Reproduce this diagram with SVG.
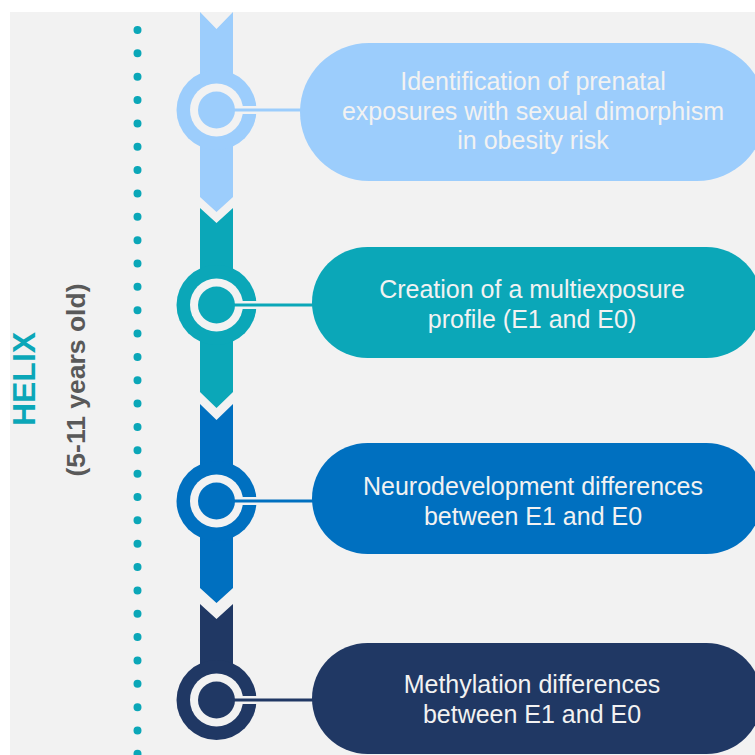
<svg xmlns="http://www.w3.org/2000/svg" width="755" height="755" viewBox="0 0 755 755">
  <style>
    .pilltext { font-family: "Liberation Sans", Arial, sans-serif; font-size: 25px; fill: #f2f2f2; text-anchor: middle; }
    .c1 { fill: #9ccdfc; } .s1 { stroke: #9ccdfc; }
    .c2 { fill: #0ba7b8; } .s2 { stroke: #0ba7b8; }
    .c3 { fill: #0070c0; } .s3 { stroke: #0070c0; }
    .c4 { fill: #203864; } .s4 { stroke: #203864; }
    .gap { fill: #f2f2f2; }
    .gapline { stroke: #f2f2f2; stroke-width: 8; }
    .conn { stroke-width: 3; fill: none; }
  </style>
  <defs>
    <g id="ring">
      <line class="gapline" x1="0" y1="0" x2="41" y2="0"/>
      <circle class="gap" r="26.5"/>
    </g>
  </defs>
  <rect width="755" height="755" fill="#ffffff"/>
  <rect x="10" y="12" width="745" height="743" fill="#f2f2f2"/>

  <g id="timeline-dots">
    <line x1="137.5" y1="30" x2="137.5" y2="760" stroke="#0ba7b8" stroke-width="8" stroke-linecap="round" stroke-dasharray="0 23.35"/>
  </g>

  <g id="label-helix">
    <text transform="translate(34.6,379) rotate(-90)" text-anchor="middle" font-family="'Liberation Sans', Arial, sans-serif" font-weight="bold" font-size="32" fill="#0ba7b8">HELIX</text>
    <text transform="translate(84.5,380) rotate(-90)" text-anchor="middle" font-family="'Liberation Sans', Arial, sans-serif" font-weight="bold" font-size="26.5" fill="#595959">(5-11 years old)</text>
  </g>

  <g id="step1">
    <polygon class="c1" points="200,12 216.5,29 233,12 233,197 216.5,212 200,197"/>
    <circle class="c1" cx="216.5" cy="110" r="40"/>
    <use href="#ring" x="216.5" y="110"/>
    <circle class="c1" cx="216.5" cy="110" r="18.5"/>
  </g>
  <g id="step2">
    <polygon class="c2" points="200,208 216.5,223 233,208 233,392 216.5,408 200,392"/>
    <circle class="c2" cx="216.5" cy="305" r="40"/>
    <use href="#ring" x="216.5" y="305"/>
    <circle class="c2" cx="216.5" cy="305" r="18.5"/>
  </g>
  <g id="step3">
    <polygon class="c3" points="200,404 216.5,420 233,404 233,588 216.5,603 200,588"/>
    <circle class="c3" cx="216.5" cy="501" r="40"/>
    <use href="#ring" x="216.5" y="501"/>
    <circle class="c3" cx="216.5" cy="501" r="18.5"/>
  </g>
  <g id="step4">
    <polygon class="c4" points="200,604 216.5,619 233,604 233,700 200,700"/>
    <circle class="c4" cx="216.5" cy="700" r="40"/>
    <use href="#ring" x="216.5" y="700"/>
    <circle class="c4" cx="216.5" cy="700" r="18.5"/>
  </g>

  <g id="pill1">
    <rect class="c1" x="300" y="43" width="466" height="138" rx="69"/>
    <text class="pilltext" x="533" y="90">Identification of prenatal</text>
    <text class="pilltext" x="533" y="120">exposures with sexual dimorphism</text>
    <text class="pilltext" x="533" y="149">in obesity risk</text>
  </g>
  <g id="pill2">
    <rect class="c2" x="312" y="247" width="450" height="111" rx="55.5"/>
    <text class="pilltext" x="532" y="298">Creation of a multiexposure</text>
    <text class="pilltext" x="532" y="328">profile (E1 and E0)</text>
  </g>
  <g id="pill3">
    <rect class="c3" x="312" y="443" width="450" height="111" rx="55.5"/>
    <text class="pilltext" x="533" y="495">Neurodevelopment differences</text>
    <text class="pilltext" x="533" y="525">between E1 and E0</text>
  </g>
  <g id="pill4">
    <rect class="c4" x="312" y="643" width="450" height="111" rx="55.5"/>
    <text class="pilltext" x="532" y="693">Methylation differences</text>
    <text class="pilltext" x="532" y="723">between E1 and E0</text>
  </g>

  <g id="connectors">
    <line class="conn s1" x1="230" y1="110" x2="302" y2="110"/>
    <line class="conn s2" x1="230" y1="305" x2="314" y2="305"/>
    <line class="conn s3" x1="230" y1="501" x2="314" y2="501"/>
    <line class="conn s4" x1="230" y1="700" x2="314" y2="700"/>
  </g>
</svg>
